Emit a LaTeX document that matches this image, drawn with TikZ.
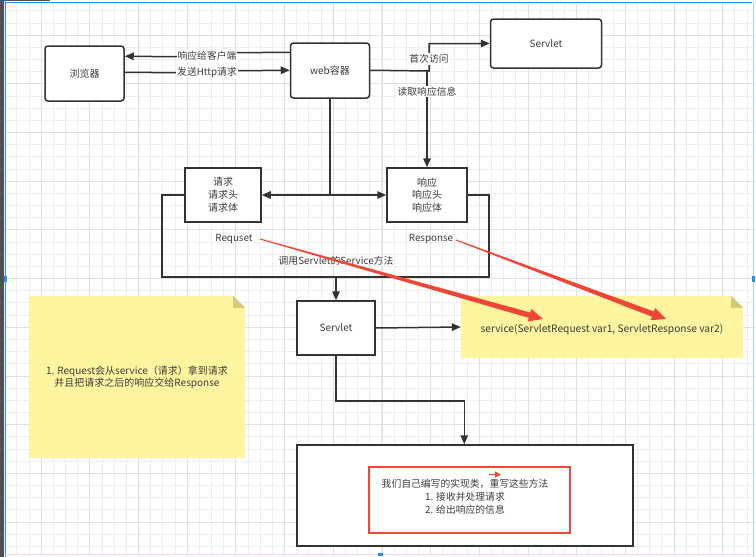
\documentclass[tikz,border=0pt]{standalone}
\usepackage{fontspec}
\setmainfont{Noto Sans CJK SC}
\usetikzlibrary{arrows.meta,calc}
\definecolor{lc}{RGB}{51,51,51}
\definecolor{tc}{RGB}{60,60,60}
\definecolor{gridminor}{RGB}{238,238,238}
\definecolor{gridmajor}{RGB}{224,224,224}
\definecolor{noteyel}{RGB}{255,245,160}
\definecolor{notefold}{RGB}{212,203,120}
\definecolor{annred}{RGB}{240,70,55}
\definecolor{frameblue}{RGB}{30,144,255}
\definecolor{framedark}{RGB}{80,80,80}
\tikzset{
  box/.style={draw=lc, line width=1.5pt, fill=white, text=tc, align=center, inner sep=0pt,
    font=\fontsize{10}{12.8}\selectfont},
  rbox/.style={box, rounded corners=3pt},
  conn/.style={draw=lc, line width=1.5pt},
  arr/.style={conn, -{Triangle[length=9pt,width=7.5pt]}},
  lab/.style={text=tc, font=\fontsize{9.8}{12}\selectfont, inner sep=1pt},
  wlab/.style={lab, fill=white},
}
\begin{document}
\begin{tikzpicture}[x=1pt,y=-1pt]
\useasboundingbox (0,0) rectangle (756,557);
\fill[white] (0,0) rectangle (756,557);
% grid
\foreach \i in {0,...,61} {
  \draw[gridminor, line width=0.6pt] (4.5+12.17*\i,2) -- (4.5+12.17*\i,556);
}
\foreach \i in {0,...,45} {
  \draw[gridminor, line width=0.6pt] (5,10.7+12.17*\i) -- (755,10.7+12.17*\i);
}
\foreach \i in {0,...,15} {
  \draw[gridmajor, line width=0.7pt] (41+48.7*\i,2) -- (41+48.7*\i,556);
}
\foreach \i in {0,...,11} {
  \draw[gridmajor, line width=0.7pt] (5,35+48.7*\i) -- (755,35+48.7*\i);
}
% screen frame
\fill[framedark] (0,0) rectangle (3.5,557);
\fill[framedark] (0,0) rectangle (50,1.2);
\draw[frameblue, line width=1pt] (5,0) -- (5,557);
\draw[frameblue, line width=1pt] (5,2) -- (752,2);
\draw[frameblue!40, line width=0.8pt] (753.5,2) -- (753.5,557);
\draw[red!15, line width=0.8pt] (5,554.5) -- (753,554.5);
\fill[frameblue] (3.5,276) rectangle (6.5,282);
\fill[frameblue] (752,276) rectangle (755,282);
\fill[frameblue] (378,553) rectangle (383,556);

% nodes
\node[rbox, minimum width=79pt, minimum height=55pt] (browser) at (84.5,73.5) {浏览器};
\node[rbox, minimum width=79pt, minimum height=55pt] (web) at (330,70.5) {web容器};
\node[rbox, minimum width=111pt, minimum height=49pt] (servlet1) at (546,43.5) {Servlet};
\node[box, minimum width=76pt, minimum height=54pt] (req) at (223,195) {请求\\请求头\\请求体};
\node[box, minimum width=80pt, minimum height=54pt] (resp) at (427,195) {响应\\响应头\\响应体};
\node[box, minimum width=78pt, minimum height=54pt] (servlet2) at (336,328) {Servlet};
\node[box, minimum width=336pt, minimum height=101pt] (bigbox) at (465,495.5) {};
\node[draw=annred, line width=2pt, minimum width=201pt, minimum height=66pt, inner sep=0pt] (redbox) at (469.5,500) {};
\node[lab, align=center, font=\fontsize{9.8}{13}\selectfont] (impltext) at (465,497)
  {我们自己编写的实现类，重写这些方法\\1. 接收并处理请求\\2. 给出响应的信息};

% notes
\path node[minimum width=282pt, minimum height=62pt, inner sep=0pt] (note2) at (602,327) {};
\fill[noteyel] (note2.north west) -- ($(note2.north east)+(-12,0)$) -- ($(note2.north east)+(0,12)$)
  -- (note2.south east) -- (note2.south west) -- cycle;
\fill[notefold] ($(note2.north east)+(-12,0)$) -- ($(note2.north east)+(0,12)$) -- ($(note2.north east)+(-12,12)$) -- cycle;
\node[lab, font=\fontsize{10.2}{12}\selectfont] (note2text) at (602,329) {service(ServletRequest var1, ServletResponse var2)};

\path node[minimum width=216pt, minimum height=162pt, inner sep=0pt] (note1) at (137,377) {};
\fill[noteyel] (note1.north west) -- ($(note1.north east)+(-12,0)$) -- ($(note1.north east)+(0,12)$)
  -- (note1.south east) -- (note1.south west) -- cycle;
\fill[notefold] ($(note1.north east)+(-12,0)$) -- ($(note1.north east)+(0,12)$) -- ($(note1.north east)+(-12,12)$) -- cycle;
\node[lab, align=center, font=\fontsize{10}{12.3}\selectfont] (note1text) at (137,377)
  {1. Request会从service（请求）拿到请求\\并且把请求之后的响应交给Response};

% connectors top
\coordinate (r1a) at ($(web.north west)+(0,10)$);
\coordinate (r1b) at ($(browser.north east)+(0,11)$);
\draw[arr] (r1a) -- (207,53) -- (207,57) -- (r1b);
\node[wlab] (lbl1) at (207,56) {响应给客户端};

\coordinate (s1a) at ($(browser.north east)+(0,27)$);
\coordinate (s1b) at ($(web.north west)+(0,28)$);
\draw[arr] (s1a) -- (207,73) -- (207,71) -- (s1b);
\node[wlab] (lbl2) at (207,72) {发送Http请求};

\coordinate (w1) at ($(web.north east)+(0,28)$);
\coordinate (wj) at (w1 -| resp.north);
\draw[arr] (w1) -- (429,71) |- (servlet1.west);
\node[wlab] (lbl3) at (429,59) {首次访问};
\draw[arr] (wj) -- (resp.north);
\node[wlab] (lbl4) at (427,91.5) {读取响应信息};

\coordinate (wd) at (web.south |- req.east);
\draw[conn] (web.south) -- (wd);
\draw[arr] (wd) -- (req.east);
\draw[arr] (wd) -- (resp.west);

% outline
\coordinate (ob) at (servlet2.north |- 0,277);
\draw[conn] (req.west) -- (162,195) -- (162,277) -- (489,277) -- (489,195) -- (resp.east);
\node[lab] (lbl5) at (336,261) {调用Servlet的Service方法};
\node[lab] (lblreq) at (234,239.5) {Requset};
\node[lab] (lblresp) at (431,239.5) {Response};
\draw[arr] (ob) -- (servlet2.north);

\draw[arr] (servlet2.east) -- (note2.west);
\draw[arr] (servlet2.south) -- ++(0,45) -| ($(bigbox.north west)+(168,0)$);

% small red arrow
\coordinate (sra) at (489,474.5);
\coordinate (srb) at (501,474.5);
\draw[annred, line width=1.5pt, -{Triangle[length=6pt,width=6pt]}] (sra) -- (srb);

% red annotation arrows
\coordinate (S1) at (260,239);
\coordinate (T1) at (543,319);
\coordinate (S2) at (456,240);
\coordinate (T2) at (666,319);
\foreach \s/\t in {S1/T1,S2/T2} {
  \coordinate (E) at ($(\t)!14pt!(\s)$);
  \fill[annred] ($(\s)!0.5pt!90:(\t)$) -- ($(E)!2.8pt!90:(\t)$) -- ($(E)!6.5pt!90:(\t)$) -- (\t)
    -- ($(E)!6.5pt!-90:(\t)$) -- ($(E)!2.8pt!-90:(\t)$) -- ($(\s)!0.5pt!-90:(\t)$) -- cycle;
}
\end{tikzpicture}
\end{document}
